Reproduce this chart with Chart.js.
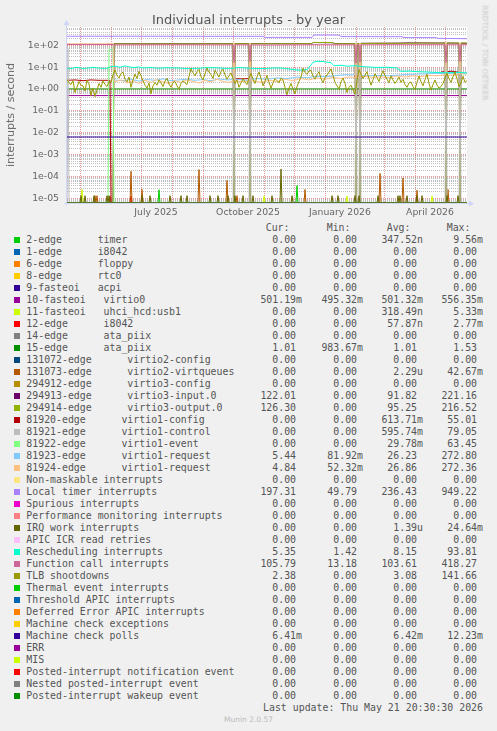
<!DOCTYPE html>
<html>
<head>
<meta charset="utf-8">
<title>Individual interrupts - by year</title>
<script src="https://cdn.jsdelivr.net/npm/chart.js@4.4.1/dist/chart.umd.min.js"></script>
<style>
  html, body { margin: 0; padding: 0; background: #f0f0f0; }
  #page { position: relative; width: 497px; height: 731px; overflow: hidden; font-family: 'DejaVu Sans', sans-serif; color: #666; }
  #chart { position: absolute; left: 0; top: 0; }
  .title { position: absolute; left: 0; width: 497px; top: 11.5px; text-align: center; font-size: 13px; line-height: 16px; color: #555; white-space: nowrap; }
  .vlabel { position: absolute; left: 11px; top: 114.5px; font-size: 11px; line-height: 12px; color: #666; white-space: nowrap; transform: translate(-50%, -50%) rotate(-90deg); }
  .brand { position: absolute; left: 485px; top: 52.5px; font-size: 7.4px; line-height: 9px; color: #c8c8c8; white-space: nowrap; transform: translate(-50%, -50%) rotate(90deg); }
  .legend { font-family: 'DejaVu Sans Mono', monospace; font-size: 9.9px; line-height: 12px; color: #555; white-space: pre; }
  .row { position: absolute; left: 0; width: 497px; height: 12px; }
  .sw { position: absolute; left: 14px; top: 2.8px; width: 6px; height: 6px; }
  .nm { position: absolute; left: 26.3px; top: 0; }
  .v { position: absolute; top: 0; text-align: right; }
  .h { position: absolute; top: 0; }
  .foot { position: absolute; left: 0; width: 497px; top: 715px; text-align: center; font-size: 7.5px; line-height: 10px; color: #bbb; }
</style>
</head>
<body>
<div id="page">
  <canvas id="chart" width="497" height="220"></canvas>
  <div class="title">Individual interrupts - by year</div>
  <div class="vlabel">interrupts / second</div>
  <div class="brand">RRDTOOL / TOBI OETIKER</div>
  <div id="legend" class="legend"></div>
  <div class="foot">Munin 2.0.57</div>
</div>
<script>
// x axis: days since 18 Apr 2025 (one pixel per day in the original)
const dayCount = 400;
const monthDays = [13, 44, 74, 105, 136, 166, 197, 227, 258, 289, 317, 348, 378];
const monthLabels = ['', '', 'July 2025', '', '', 'October 2025', '', '', 'January 2026', '', '', 'April 2026', ''];

// y axis (log)
const yMin = 6.24e-6;
const yMax = 679;
const decadeValues = [1e-5, 1e-4, 1e-3, 1e-2, 1e-1, 1, 10, 100];
const decadeLabels = ['1e-05', '1e-04', '1e-03', '1e-02', '1e-01', '1e+00', '1e+01', '1e+02'];

// legend
const seriesNames = [
  '2-edge      timer', '1-edge      i8042', '6-edge      floppy', '8-edge      rtc0', '9-fasteoi   acpi',
  '10-fasteoi   virtio0', '11-fasteoi   uhci_hcd:usb1', '12-edge      i8042', '14-edge      ata_piix', '15-edge      ata_piix',
  '131072-edge      virtio2-config', '131073-edge      virtio2-virtqueues', '294912-edge      virtio3-config',
  '294913-edge      virtio3-input.0', '294914-edge      virtio3-output.0',
  '81920-edge      virtio1-config', '81921-edge      virtio1-control', '81922-edge      virtio1-event',
  '81923-edge      virtio1-request', '81924-edge      virtio1-request',
  'Non-maskable interrupts', 'Local timer interrupts', 'Spurious interrupts', 'Performance monitoring interrupts',
  'IRQ work interrupts', 'APIC ICR read retries', 'Rescheduling interrupts', 'Function call interrupts', 'TLB shootdowns',
  'Thermal event interrupts', 'Threshold APIC interrupts', 'Deferred Error APIC interrupts', 'Machine check exceptions',
  'Machine check polls', 'ERR', 'MIS', 'Posted-interrupt notification event', 'Nested posted-interrupt event',
  'Posted-interrupt wakeup event'
];
const curValues = ['0.00','0.00','0.00','0.00','0.00','501.19m','0.00','0.00','0.00','1.01','0.00','0.00','0.00','122.01','126.30','0.00','0.00','0.00','5.44','4.84','0.00','197.31','0.00','0.00','0.00','0.00','5.35','105.79','2.38','0.00','0.00','0.00','0.00','6.41m','0.00','0.00','0.00','0.00','0.00'];
const minValues = ['0.00','0.00','0.00','0.00','0.00','495.32m','0.00','0.00','0.00','983.67m','0.00','0.00','0.00','0.00','0.00','0.00','0.00','0.00','81.92m','52.32m','0.00','49.79','0.00','0.00','0.00','0.00','1.42','13.18','0.00','0.00','0.00','0.00','0.00','0.00','0.00','0.00','0.00','0.00','0.00'];
const avgValues = ['347.52n','0.00','0.00','0.00','0.00','501.32m','318.49n','57.87n','0.00','1.01','0.00','2.29u','0.00','91.82','95.25','613.71m','595.74m','29.78m','26.23','26.86','0.00','236.43','0.00','0.00','1.39u','0.00','8.15','103.61','3.08','0.00','0.00','0.00','0.00','6.42m','0.00','0.00','0.00','0.00','0.00'];
const maxValues = ['9.56m','0.00','0.00','0.00','0.00','556.35m','5.33m','2.77m','0.00','1.53','0.00','42.67m','0.00','221.16','216.52','55.01','79.05','63.45','272.80','272.36','0.00','949.22','0.00','0.00','24.64m','0.00','93.81','418.27','141.66','0.00','0.00','0.00','0.00','12.23m','0.00','0.00','0.00','0.00','0.00'];
const lastUpdate = 'Last update: Thu May 21 20:30:30 2026';

// munin palette
const seriesColors = [
  '#00CC00', '#0066B3', '#FF8000', '#FFCC00', '#330099', '#990099', '#CCFF00', '#FF0000', '#808080', '#008F00',
  '#00487D', '#B35A00', '#B38F00', '#6B006B', '#8FB300', '#B30000', '#BEBEBE', '#80FF80', '#80C9FF', '#FFC080',
  '#FFE680', '#AA80FF', '#EE00CC', '#FF8080', '#666600', '#FFBFFF', '#00FFCC', '#CC6699', '#999900',
  '#00CC00', '#0066B3', '#FF8000', '#FFCC00', '#330099', '#990099', '#CCFF00', '#FF0000', '#808080', '#008F00'
];

// series: [day, value]; null = unknown (no line)
const zeroLine = [[0, 0], [400, 0]];
const virtio0 = [[0, 0.501], [400, 0.501]];
const ataPiix15 = [[0, 1.01], [400, 1.01]];
const machineCheckPolls = [[0, 0.00642], [400, 0.00641]];

const localTimer = [[0, 256], [14, 256], [15, 246], [16, 258], [44, 256], [45, 244], [46, 258], [120, 255], [196, 255],
  [198, 228], [245, 228], [247, 292], [272, 290], [274, 248], [335, 245], [337, 224], [369, 222], [371, 206], [400, 198]];

const functionCall = [[0, 108], [20, 107], [46, 108], [47, 104], [100, 106], [166, 104], [167, 16], [168, 105],
  [182, 104], [183, 18], [184, 104], [200, 102], [246, 106], [288, 104], [289, 15], [290, 105], [292, 104], [293, 17],
  [294, 105], [330, 106], [378, 106], [379, 16], [380, 106], [392, 105], [393, 18], [394, 106], [400, 106]];

const virtio3Input = [[0, 0], [46, 0], [47, 118], [80, 116], [166, 118], [167, 0], [168, 118], [182, 117], [183, 0],
  [184, 118], [245, 118], [246, 132], [266, 130], [267, 118], [288, 118], [289, 0], [290, 120], [292, 120], [293, 0],
  [294, 122], [330, 124], [340, 128], [378, 126], [379, 0], [380, 126], [392, 124], [393, 0], [394, 124], [400, 122]];

const virtio3Output = [[0, 0], [46, 0], [47, 116], [80, 115], [166, 116], [167, 0], [168, 117], [182, 116], [183, 0],
  [184, 116], [245, 117], [246, 134], [266, 132], [267, 116], [288, 117], [289, 0], [290, 119], [292, 119], [293, 0],
  [294, 121], [330, 123], [378, 126], [379, 0], [380, 127], [392, 126], [393, 0], [394, 127], [400, 126]];

const virtio1Config = [[0, 2.5], [8, 2.6], [16, 2.4], [24, 2.6], [32, 2.5], [43, 2.5], [44, 0], [45, null],
  [166, 3.0], [175, 2.9], [182, 3.0], [183, null], [287, 3.8], [292, 4.2], [293, null],
  [374, 6.0], [385, 6.5], [392, 5.8], [393, null]];

const virtio1Event = [[0, 0], [41, 0], [42, 63], [46, 63], [47, 0], [400, 0]];

const virtio1Request1 = [[0, 112], [12, 110], [46, 112], [47, 2.6], [56, 2.4], [64, 2.8], [72, 2.3], [80, 2.7], [88, 2.5],
  [96, 2.9], [104, 2.4], [112, 2.6], [120, 2.8], [128, 2.5], [136, 2.7], [144, 2.4], [152, 2.9], [160, 2.6], [166, 2.7],
  [167, 125], [168, 2.8], [180, 2.5], [182, 2.6], [183, 120], [184, 2.7], [190, 3.0], [200, 2.8], [210, 3.2], [220, 3.0],
  [230, 3.5], [240, 3.3], [250, 3.8], [260, 3.6], [270, 4.2], [280, 4.5], [288, 4.4], [289, 130], [290, 4.4], [292, 4.3],
  [293, 118], [294, 4.2], [300, 4.0], [310, 4.2], [320, 4.0], [330, 4.3], [340, 4.6], [350, 4.8], [360, 5.0], [370, 5.2],
  [378, 5.0], [379, 128], [380, 5.0], [390, 5.5], [392, 5.4], [393, 122], [394, 5.5], [400, 5.44]];

const virtio1Request2 = [[0, 116], [46, 116], [47, 2.1], [54, 2.6], [60, 1.9], [66, 2.4], [72, 1.8], [78, 2.5], [84, 2.0],
  [90, 2.7], [96, 2.1], [102, 1.8], [108, 2.4], [114, 2.0], [120, 2.6], [126, 2.2], [132, 1.9], [138, 2.5], [144, 2.1],
  [150, 2.8], [156, 2.2], [162, 2.0], [166, 2.3], [167, 130], [168, 2.3], [178, 2.1], [182, 2.4], [183, 126], [184, 2.5],
  [194, 2.0], [202, 2.5], [210, 2.2], [218, 2.8], [226, 2.4], [234, 3.0], [242, 2.6], [250, 3.2], [258, 2.8], [266, 3.4],
  [274, 3.0], [282, 3.6], [288, 3.3], [289, 132], [290, 3.2], [292, 3.5], [293, 124], [294, 3.6], [298, 3.8], [306, 3.4],
  [314, 3.6], [322, 3.3], [330, 3.9], [338, 3.5], [346, 4.0], [354, 3.7], [362, 4.2], [370, 4.0], [378, 4.5], [379, 134],
  [380, 4.4], [386, 4.3], [392, 4.7], [393, 128], [394, 4.9], [400, 4.84]];

const rescheduling = [[0, 9.2], [4, 8.6], [8, 9.6], [12, 9.4], [16, 8.7], [20, 9.0], [26, 9.8], [30, 9.3], [36, 8.8],
  [40, 8.9], [44, 10.5], [48, 11.0], [52, 10.0], [54, 10.2], [58, 11.4], [60, 10.8], [64, 9.8], [68, 9.6], [72, 10.2],
  [76, 9.2], [84, 9.6], [90, 9.0], [100, 9.4], [110, 9.2], [120, 8.7], [130, 8.8], [140, 9.5], [150, 9.3], [158, 8.8],
  [166, 8.9], [172, 9.6], [180, 9.1], [190, 8.6], [200, 8.8], [208, 9.3], [215, 9.0], [226, 7.8], [232, 7.3], [240, 7.6],
  [246, 16.5], [250, 18.5], [256, 18], [260, 16.8], [264, 16], [267, 11.5], [274, 12.2], [280, 11], [288, 11.6],
  [296, 10.5], [302, 10.1], [310, 9.6], [320, 9.9], [330, 9.2], [334, 6.4], [342, 6.6], [350, 6.2], [358, 6.0],
  [366, 5.8], [374, 5.6], [380, 5.5], [390, 5.8], [400, 5.35]];

// TLB shootdowns, one reading every 2 days
const tlbStep = 2;
const tlbValues = [
  2.8, 1.9, 1.6, 2.4, 0.7, 1.2, 2.2, 1.5, 1.4, 0.8, 2.5, 1.7, 0.5, 1.1, 0.45, 0.9, 1.8, 1.2, 2.4, 1.6,
  1.3, 2.2, 2.0, 4.5, 7.5, 4.2, 3.2, 5.1, 6.0, 2.8, 2.1, 3.5, 1.2, 2.6, 4.8, 3.0, 6.5, 4.0, 2.4, 1.5,
  1.1, 1.9, 0.6, 1.4, 2.0, 1.5, 2.6, 1.9, 1.3, 2.3, 3.1, 1.7, 1.2, 2.0, 2.2, 1.4, 1.0, 1.8, 2.4, 1.9,
  1.6, 3.8, 8.5, 5.5, 4.0, 6.2, 7.8, 3.6, 2.6, 5.0, 9.0, 6.0, 4.5, 3.0, 7.2, 5.1, 3.5, 6.4, 8.0, 4.4,
  2.8, 4.0, 5.5, 3.0, 1.8, 2.6, 1.2, 1.9, 2.9, 2.1, 1.6, 3.2, 5.2, 2.8, 1.8, 3.6, 6.0, 3.1, 1.4, 2.3,
  4.2, 2.0, 1.1, 1.9, 3.0, 2.4, 1.9, 3.2, 2.6, 1.2, 0.55, 1.1, 1.8, 1.0, 0.6, 1.3, 2.2, 3.5, 8.8, 5.8,
  4.6, 6.8, 7.0, 3.9, 2.8, 4.5, 6.2, 3.0, 1.9, 3.3, 4.4, 6.0, 8.2, 4.1, 2.0, 1.4, 1.0, 2.1, 3.2, 1.8,
  0.7, 1.2, 1.5, 0.9, 0.6, 2.5, 7.8, 4.6, 3.0, 4.3, 6.2, 2.9, 1.5, 2.6, 5.0, 3.4, 2.2, 4.1, 6.8, 4.0,
  2.8, 1.9, 4.0, 2.6, 1.8, 2.4, 3.5, 2.0, 2.8, 1.6, 1.2, 1.9, 2.1, 1.3, 0.95, 2.0, 3.8, 2.2, 1.4, 2.7,
  4.8, 1.8, 0.9, 1.6, 2.6, 1.5, 1.1, 1.3, 1.8, 3.2, 5.2, 3.0, 2.0, 3.6, 6.0, 2.9, 1.3, 1.9, 3.8, 2.0,
  2.4
];

// short bursts near the floor: [day, value]
const timer2Spikes = [[92, 2.5e-5], [230, 3.9e-5]];
const usbSpikes = [[15, 2.6e-5], [197, 1.3e-5], [280, 1.3e-5], [365, 1.3e-5]];
const i8042Spikes = [[64, 1.3e-5]];
const virtqueueSpikes = [[28, 1.35e-5], [30, 1.35e-5], [43, 1.3e-5], [64, 1.75e-4], [75, 2.6e-5], [132, 2.1e-4],
  [160, 6.8e-5], [170, 1.35e-5], [238, 2.6e-5], [313, 1.4e-4], [336, 8.7e-5], [350, 2.4e-5], [381, 2.6e-5]];
const virtio1ControlSpikes = [[1, 70], [167, 75], [183, 72], [289, 79], [293, 70], [379, 76], [393, 74]];
const irqWorkSpikes = [[14, 1.35e-5], [18, 1.35e-5], [27, 1.35e-5], [40, 1.35e-5], [42, 1.35e-5], [75, 1.35e-5],
  [83, 1.35e-5], [103, 1.35e-5], [114, 1.35e-5], [120, 1.35e-5], [143, 1.35e-5], [151, 1.35e-5], [161, 1.35e-5],
  [168, 1.35e-5], [176, 1.35e-5], [186, 1.35e-5], [205, 1.35e-5], [214, 2.2e-4], [225, 1.35e-5], [265, 1.35e-5],
  [271, 1.35e-5], [288, 1.35e-5], [292, 1.35e-5], [311, 1.35e-5], [331, 1.35e-5], [333, 1.35e-5], [340, 1.35e-5],
  [350, 1.35e-5], [355, 1.35e-5], [380, 1.35e-5], [391, 1.35e-5]];

function spikePoints(list) {
  const pts = [[0, 0]];
  list.forEach(([d, v]) => { pts.push([d - 1, 0], [d, v], [d + 1, 0]); });
  pts.push([dayCount, 0]);
  return pts;
}

const tlbPoints = tlbValues.map((v, i) => [i * tlbStep, v]);

const seriesPoints = [
  spikePoints(timer2Spikes), zeroLine, zeroLine, zeroLine, zeroLine,
  virtio0, spikePoints(usbSpikes), spikePoints(i8042Spikes), zeroLine, ataPiix15,
  zeroLine, spikePoints(virtqueueSpikes), zeroLine, virtio3Input, virtio3Output,
  virtio1Config, spikePoints(virtio1ControlSpikes), virtio1Event, virtio1Request1, virtio1Request2,
  zeroLine, localTimer, zeroLine, zeroLine, spikePoints(irqWorkSpikes), zeroLine, rescheduling, functionCall, tlbPoints,
  zeroLine, zeroLine, zeroLine, zeroLine, machineCheckPolls, zeroLine, zeroLine, zeroLine, zeroLine, zeroLine
];

// ---- legend ----
function buildLegend() {
  const box = document.getElementById('legend');
  const firstRow = 233.9;
  const colRight = [195, 134, 74, 14];
  const headLeft = [265.7, 326.7, 386.7, 446.7];
  const head = document.createElement('div');
  head.className = 'row';
  head.style.top = (firstRow - 12.4) + 'px';
  ['Cur:', 'Min:', 'Avg:', 'Max:'].forEach((t, k) => {
    const s = document.createElement('span');
    s.className = 'h';
    s.style.left = headLeft[k] + 'px';
    s.textContent = t;
    head.appendChild(s);
  });
  box.appendChild(head);

  seriesNames.forEach((name, i) => {
    const row = document.createElement('div');
    row.className = 'row';
    row.style.top = (firstRow + 12 * i) + 'px';
    const sw = document.createElement('span');
    sw.className = 'sw';
    sw.style.background = seriesColors[i];
    row.appendChild(sw);
    const nm = document.createElement('span');
    nm.className = 'nm';
    nm.textContent = name;
    row.appendChild(nm);
    [curValues, minValues, avgValues, maxValues].forEach((col, k) => {
      const v = document.createElement('span');
      v.className = 'v';
      v.style.right = colRight[k] + 'px';
      const txt = col[i];
      v.textContent = /\d$/.test(txt) ? txt + ' ' : txt;
      row.appendChild(v);
    });
    box.appendChild(row);
  });

  const lu = document.createElement('div');
  lu.className = 'row';
  lu.style.top = (firstRow + 12 * seriesNames.length) + 'px';
  const s = document.createElement('span');
  s.className = 'v';
  s.style.right = '14px';
  s.textContent = lastUpdate;
  lu.appendChild(s);
  box.appendChild(lu);
}
buildLegend();

// ---- chart ----
const isDecade = v => Math.abs(Math.log10(v) - Math.round(Math.log10(v))) < 1e-9;
const minorGrid = 'rgba(140,140,140,0.55)';
const majorGrid = 'rgba(222,79,79,0.6)';
const axisColor = '#CFD6F8';

const frame = {
  id: 'frame',
  beforeDraw(chart) {
    const { ctx, chartArea: a } = chart;
    ctx.save();
    ctx.fillStyle = '#ffffff';
    ctx.fillRect(a.left, a.top, a.right - a.left, a.bottom - a.top);
    ctx.restore();
  },
  afterDatasetsDraw(chart) {
    const { ctx, chartArea: a } = chart;
    ctx.save();
    ctx.strokeStyle = axisColor;
    ctx.fillStyle = axisColor;
    ctx.lineWidth = 1;
    ctx.beginPath();
    ctx.moveTo(a.left - 0.5, a.bottom + 3);
    ctx.lineTo(a.left - 0.5, a.top - 4);
    ctx.moveTo(a.left - 3, a.bottom + 0.5);
    ctx.lineTo(a.right + 3, a.bottom + 0.5);
    ctx.stroke();
    ctx.beginPath();
    ctx.moveTo(a.left - 3.5, a.top - 2);
    ctx.lineTo(a.left + 2.5, a.top - 2);
    ctx.lineTo(a.left - 0.5, a.top - 7);
    ctx.closePath();
    ctx.fill();
    ctx.beginPath();
    ctx.moveTo(a.right + 2, a.bottom - 2.5);
    ctx.lineTo(a.right + 2, a.bottom + 3.5);
    ctx.lineTo(a.right + 7, a.bottom + 0.5);
    ctx.closePath();
    ctx.fill();
    ctx.restore();
  }
};

const datasets = seriesPoints.map((pts, i) => ({
  label: seriesNames[i],
  data: pts.map(([d, v]) => ({ x: d, y: v === null ? null : (v > 0 ? v : yMin) })),
  borderColor: seriesColors[i],
  backgroundColor: seriesColors[i],
  borderWidth: 1,
  pointRadius: 0,
  tension: 0,
  fill: false,
  spanGaps: false,
  order: -i
}));

new Chart(document.getElementById('chart').getContext('2d'), {
  type: 'line',
  data: { datasets },
  options: {
    responsive: false,
    animation: false,
    devicePixelRatio: 1,
    layout: { padding: { left: 0, right: 30, top: 27, bottom: 0 } },
    plugins: { legend: { display: false }, tooltip: { enabled: false }, title: { display: false } },
    scales: {
      x: {
        type: 'linear',
        min: 0,
        max: dayCount,
        bounds: 'data',
        afterFit(scale) { scale.height = 17; },
        afterBuildTicks(scale) { scale.ticks = monthDays.map(v => ({ value: v })); },
        ticks: {
          autoSkip: false,
          maxRotation: 0,
          padding: 4,
          labelOffset: 15,
          color: '#666',
          font: { family: 'DejaVu Sans', size: 9.3 },
          callback: (value, index) => monthLabels[index]
        },
        grid: { color: majorGrid, lineWidth: 1, drawTicks: false },
        border: { display: false, dash: [1, 1] }
      },
      y: {
        type: 'logarithmic',
        min: yMin,
        max: yMax,
        bounds: 'data',
        afterFit(scale) { scale.width = 67; },
        afterBuildTicks(scale) {
          const ticks = [];
          for (let e = -6; e <= 2; e++) {
            for (let m = 1; m <= 9; m++) {
              const v = m * Math.pow(10, e);
              if (v >= yMin && v <= yMax) ticks.push({ value: v });
            }
          }
          scale.ticks = ticks;
        },
        ticks: {
          autoSkip: false,
          padding: 8,
          color: '#666',
          font: { family: 'DejaVu Sans', size: 9.3 },
          callback: (value) => {
            const k = decadeValues.findIndex(d => Math.abs(d - value) <= d * 1e-9);
            return k < 0 ? '' : decadeLabels[k];
          }
        },
        grid: {
          color: c => (c.tick && isDecade(c.tick.value)) ? majorGrid : minorGrid,
          lineWidth: 1,
          drawTicks: false
        },
        border: { display: false, dash: [1, 1] }
      }
    }
  },
  plugins: [frame]
});
</script>
</body>
</html>
